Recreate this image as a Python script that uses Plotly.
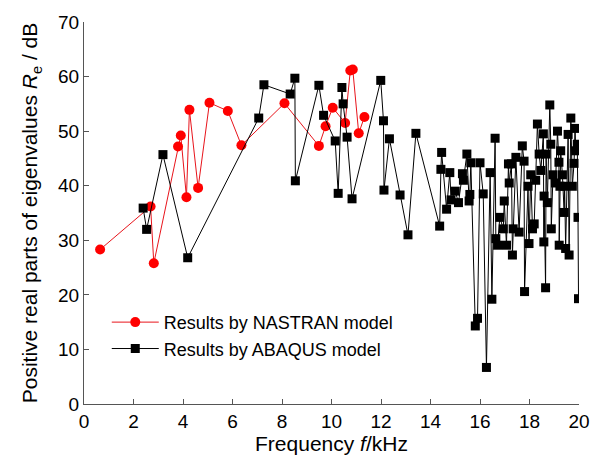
import plotly.graph_objects as go

# NASTRAN model results (frequency kHz, positive real part dB)
nastran_f = [0.65, 2.69, 2.82, 3.80, 3.91, 4.14, 4.26, 4.61, 5.07, 5.81, 6.36,
             8.10, 9.49, 9.76, 10.05, 10.55, 10.76, 10.86, 11.10, 11.33]
nastran_v = [28.3, 36.2, 25.8, 47.2, 49.2, 37.9, 53.9, 39.6, 55.2, 53.7, 47.4,
             55.1, 47.3, 50.9, 54.3, 51.5, 61.1, 61.3, 49.6, 52.6]

# ABAQUS model results
abaqus_f = [2.39, 2.53, 3.19, 4.19, 7.06, 7.27, 8.33, 8.52, 8.54, 9.49, 9.68,
            10.15, 10.27, 10.42, 10.47, 10.63, 10.83, 11.99, 12.10, 12.12, 12.34,
            12.77, 13.09, 13.41, 14.37, 14.42, 14.45, 14.65, 14.78, 14.83, 15.00,
            15.13, 15.29, 15.33, 15.47, 15.56, 15.59, 15.63, 15.81, 15.90, 16.00,
            16.13, 16.26, 16.41, 16.48, 16.61, 16.64, 16.71, 16.80, 16.94, 16.98,
            17.07, 17.15, 17.18, 17.27, 17.31, 17.34, 17.45, 17.58, 17.71, 17.78,
            17.80, 17.94, 17.98, 18.05, 18.12, 18.19, 18.25, 18.32, 18.39, 18.46,
            18.56, 18.58, 18.59, 18.65, 18.67, 18.72, 18.82, 18.86, 18.88, 18.95,
            19.05, 19.13, 19.19, 19.20, 19.23, 19.26, 19.33, 19.40, 19.42, 19.46,
            19.56, 19.60, 19.67, 19.73, 19.80, 19.84, 19.87, 19.93, 19.96, 19.98]
abaqus_v = [35.9, 32.0, 45.7, 26.8, 52.4, 58.5, 56.8, 59.7, 40.9, 58.4, 52.9,
            48.2, 38.6, 58.0, 55.0, 48.9, 37.6, 59.3, 51.9, 39.2, 48.6,
            38.3, 31.0, 49.6, 32.6, 43.0, 46.1, 35.7, 42.4, 37.4, 39.0,
            36.9, 42.2, 41.0, 45.8, 37.2, 38.4, 44.2, 14.3, 15.7, 44.2,
            38.5, 6.7, 42.4, 19.2, 48.7, 30.3, 29.1, 34.2, 32.1, 37.2,
            29.1, 44.0, 40.5, 44.0, 27.3, 32.1, 45.2, 31.5, 47.3, 44.5,
            20.6, 39.9, 29.4, 42.0, 32.1, 33.0, 41.0, 51.3, 45.8, 42.8,
            49.5, 29.7, 38.1, 21.3, 45.8, 36.9, 54.8, 47.6, 32.1, 42.0,
            40.5, 50.0, 44.3, 29.1, 39.9, 46.4, 42.0, 35.1, 39.9, 28.5,
            49.4, 27.3, 52.4, 39.9, 44.1, 50.5, 46.4, 47.6, 34.2, 19.3]

x_ticks = [0, 2, 4, 6, 8, 10, 12, 14, 16, 18, 20]
y_ticks = [0, 10, 20, 30, 40, 50, 60, 70]

font_family = "Liberation Sans, Arial, sans-serif"

fig = go.Figure()
fig.add_trace(go.Scatter(
    x=nastran_f, y=nastran_v, mode="lines+markers",
    name="Results by NASTRAN model",
    line=dict(color="#e8141b", width=1),
    marker=dict(symbol="circle", size=10, color="#ff0000",
                line=dict(width=0)),
))
fig.add_trace(go.Scatter(
    x=abaqus_f, y=abaqus_v, mode="lines+markers",
    name="Results by ABAQUS model",
    line=dict(color="#000000", width=1),
    marker=dict(symbol="square", size=9, color="#000000",
                line=dict(width=0)),
))

axis_common = dict(
    showline=True, linecolor="#555555", linewidth=1,
    ticks="inside", ticklen=5, tickcolor="#555555", tickwidth=1,
    showgrid=False, zeroline=False, mirror=False,
    tickfont=dict(family=font_family, size=19, color="#000000"),
)

fig.update_layout(
    width=602, height=462,
    margin=dict(l=84, r=22, t=15, b=56),
    paper_bgcolor="white", plot_bgcolor="white",
    font=dict(family=font_family, color="#000000"),
    xaxis=dict(range=[0, 20], tickvals=x_ticks,
               ticktext=[str(t) for t in x_ticks],
               title=dict(text="Frequency <i>f</i>/kHz",
                          font=dict(size=21), standoff=4),
               **axis_common),
    yaxis=dict(range=[0, 70], tickvals=y_ticks,
               ticktext=[str(t) for t in y_ticks],
               title=dict(text="Positive real parts of eigenvalues <i>R</i><sub>e</sub> / dB",
                          font=dict(size=21), standoff=14),
               **axis_common),
    legend=dict(x=0.046, y=0.262, xanchor="left", yanchor="top",
                bgcolor="rgba(0,0,0,0)", borderwidth=0,
                font=dict(family=font_family, size=18, color="#000000"),
                itemwidth=47, tracegroupgap=0),
    showlegend=True,
)

fig.write_html("out.html")
